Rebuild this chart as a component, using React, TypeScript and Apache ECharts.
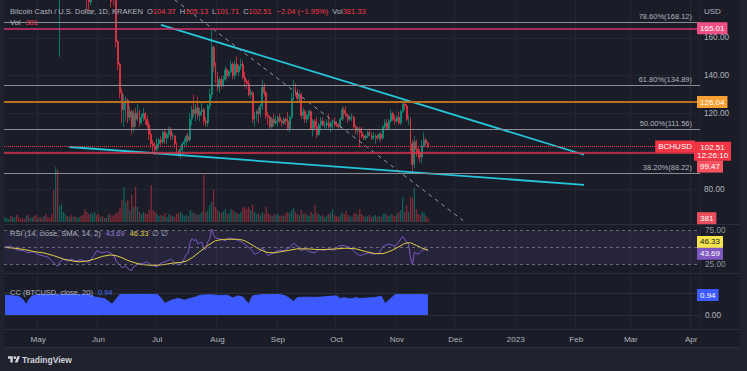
import React, { useEffect, useRef } from "react";
import * as echarts from "echarts";

const FONT = "'Liberation Sans', Arial, sans-serif";
const START_DATE = Date.UTC(2022, 3, 14);
const AXIS_DAYS = 357;
const MONTHS = ["Jan", "Feb", "Mar", "Apr", "May", "Jun", "Jul", "Aug", "Sep", "Oct", "Nov", "Dec"];

const firstOpen = 326;
const closes = [
  330, 333, 335, 325, 332, 340, 338, 330, 322, 320, 316, 318, 300, 303, 306, 292, 280,
  290, 288, 284, 302, 280, 272, 265, 250, 218, 220, 190, 195, 205, 205,
  215, 205, 210, 198, 205, 200, 202, 207, 198, 197, 192, 182, 179, 183, 186, 200, 198,
  186, 191, 187, 189, 188, 193, 185, 183, 180, 158, 146, 131, 122,
  126, 127, 118, 121, 113, 120, 117, 121, 115, 118, 120, 117, 114, 109, 104, 103, 101,
  104, 106, 105, 110, 107, 109, 111, 108, 108, 104, 100, 98, 101, 104, 105, 108, 106,
  117, 122, 120, 123, 119, 121, 122, 116, 115, 124, 130, 155, 145, 140,
  134, 138, 135, 138, 143, 140, 142, 146, 140, 146, 142, 145, 146, 139, 137, 136, 130, 131,
  117, 119, 121, 120, 124, 134, 131, 119, 118, 113, 117, 115, 116, 118, 116, 115, 117, 116, 112,
  118, 128, 133, 131, 128, 130, 119, 121, 117, 119, 121, 112, 116, 113, 109, 114, 116, 114, 114, 115, 113, 115, 116, 115,
  114, 113, 117, 122, 120, 119, 117, 118, 118, 113, 111, 112, 110, 108, 107, 108, 110, 109, 107, 108, 108, 107, 109, 107, 113, 115, 112, 116, 120, 117, 116,
  118, 115, 121, 125, 124, 117, 117, 104, 93, 105, 101, 99, 97, 103, 106, 104.37, 102.51,
];
const highs = [
  338, 336, 339, 337, 334, 343, 348, 352, 333, 326, 322, 320, 322, 308, 312, 308, 296,
  292, 294, 292, 305, 306, 282, 274, 266, 252, 232, 226, 200, 215, 210,
  217, 216, 214, 212, 207, 208, 205, 209, 212, 202, 200, 194, 186, 186, 188, 203, 204,
  202, 193, 192, 191, 191, 198, 194, 188, 185, 181, 159, 147, 133,
  130, 129, 128, 124, 122, 122, 123, 125, 122, 120, 123, 121, 119, 116, 112, 106, 105,
  107, 107, 108, 111, 112, 110, 113, 113, 110, 109, 105, 101, 102, 105, 107, 109, 110,
  120, 124, 130, 125, 129, 123, 126, 123, 118, 125, 133, 165, 156, 147,
  142, 139, 140, 140, 145, 144, 143, 148, 147, 148, 150, 146, 149, 148, 142, 138, 138, 133,
  132, 121, 122, 123, 125, 138, 136, 132, 121, 119, 118, 120, 119, 119, 120, 117, 118, 118, 121,
  119, 131, 138, 136, 133, 132, 131, 123, 122, 120, 122, 122, 117, 117, 118, 115, 118, 118, 116, 117, 120, 116, 117, 118,
  116, 115, 118, 124, 123, 124, 120, 119, 120, 119, 114, 113, 113, 113, 109, 109, 111, 112, 110, 110, 109, 109, 110, 110, 114, 117, 117, 117, 122, 121, 119,
  119, 121, 122, 127, 127, 125, 119, 118, 106, 108, 106, 102, 101, 106, 110, 107, 105.13,
];
const lows = [
  322, 326, 330, 322, 312, 330, 334, 325, 318, 316, 312, 300, 298, 296, 300, 288, 278,
  276, 283, 280, 282, 275, 265, 262, 245, 214, 205, 180, 150, 192, 196,
  200, 200, 203, 196, 195, 196, 198, 200, 196, 193, 188, 175, 174, 177, 180, 185, 194,
  183, 184, 184, 186, 185, 186, 176, 179, 177, 155, 143, 128, 115,
  113, 116, 115, 116, 109, 110, 113, 116, 113, 114, 116, 114, 112, 106, 102, 99, 98,
  100, 102, 103, 104, 104, 104, 107, 106, 106, 102, 99, 97, 96, 99, 102, 103, 105,
  105, 114, 118, 116, 117, 116, 119, 114, 113, 113, 122, 128, 142, 136,
  132, 131, 133, 134, 137, 138, 139, 141, 138, 138, 141, 140, 143, 138, 134, 133, 129, 128,
  115, 113, 116, 115, 118, 122, 129, 117, 114, 112, 112, 113, 114, 113, 115, 113, 114, 114, 111,
  110, 117, 127, 129, 126, 126, 117, 117, 115, 115, 117, 111, 108, 111, 107, 108, 111, 113, 112, 112, 112, 110, 112, 113,
  113, 112, 112, 116, 117, 118, 115, 116, 116, 112, 109, 109, 102, 107, 106, 106, 107, 108, 106, 106, 104, 106, 106, 105, 106, 112, 111, 111, 115, 116, 114,
  115, 114, 114, 120, 122, 116, 114, 100, 88, 91, 97, 96, 94, 94, 102, 103, 101.71,
];
const volumes = [
  500, 400, 300, 600, 500, 400, 700, 500, 300, 400, 300, 600, 700, 400, 500, 600, 700,
  400, 500, 400, 600, 800, 500, 400, 800, 3200, 5500, 5200, 1600, 1800, 1000,
  800, 600, 500, 700, 500, 600, 400, 500, 600, 700, 1300, 1000, 800, 900, 800, 1000, 700,
  800, 500, 600, 400, 400, 700, 800, 600, 700, 900, 1000, 1400, 2200,
  3500, 2000, 2200, 1200, 2700, 1500, 3500, 1500, 1000, 800, 1000, 900, 800, 1200, 3700, 1200, 1000,
  800, 600, 700, 600, 900, 500, 800, 700, 600, 500, 800, 900, 1000, 800, 600, 700, 600,
  1200, 1000, 900, 800, 700, 800, 1000, 4700, 1000, 1200, 1700, 2000, 3200, 1500,
  1200, 1000, 900, 1100, 1300, 800, 900, 1300, 1200, 1000, 900, 800, 1000, 1400, 1500, 1300, 1500, 1200,
  1700, 1000, 800, 900, 700, 1000, 800, 1500, 900, 700, 600, 800, 700, 800, 600, 700, 600, 800, 1000,
  900, 1200, 1400, 1000, 800, 700, 1200, 800, 900, 700, 600, 1000, 800, 1700, 900, 800, 600, 700, 500, 600, 800, 900, 1300, 700,
  600, 500, 700, 1000, 800, 1100, 700, 600, 500, 800, 900, 700, 1300, 800, 600, 500, 600, 700, 500, 600, 700, 500, 600, 500, 800, 900, 700, 600, 800, 700, 600,
  800, 1000, 1200, 2500, 1000, 1700, 1000, 2500, 2400, 3400, 1300, 800, 700, 1000, 900, 600, 381.33,
];
const rsiPoints = [
  [0, 51], [3, 52], [5, 48], [7, 46], [10, 45], [12, 42], [14, 44], [17, 40], [19, 38], [22, 36], [24, 30],
  [26, 25], [27, 22], [28, 28], [30, 33], [32, 30], [34, 33], [36, 30], [39, 32], [41, 30], [43, 28], [46, 40],
  [47, 45], [50, 42], [52, 44], [54, 42], [56, 38], [57, 30], [59, 24], [60, 20], [62, 23], [63, 19], [65, 16],
  [66, 22], [68, 25], [71, 27], [73, 29], [75, 24], [78, 22], [80, 27], [83, 30], [85, 33], [87, 28], [89, 24],
  [91, 28], [93, 40], [94, 42], [95, 58], [96, 63], [97, 60], [98, 62], [99, 55], [100, 57], [101, 58], [102, 48],
  [103, 47], [104, 58], [105, 63], [106, 77], [107, 68], [108, 64], [111, 62], [113, 60], [115, 64], [118, 62],
  [120, 60], [122, 57], [124, 52], [126, 48], [128, 40], [130, 42], [132, 50], [133, 46], [135, 38], [137, 41],
  [139, 44], [141, 46], [143, 45], [146, 50], [148, 56], [150, 52], [152, 45], [154, 48], [156, 44], [159, 42],
  [161, 47], [164, 46], [166, 48], [169, 46], [171, 52], [174, 53], [177, 50], [179, 44], [182, 38], [184, 40],
  [187, 42], [189, 40], [192, 42], [194, 52], [197, 55], [200, 52], [202, 58], [204, 66], [205, 62], [207, 55],
  [208, 35], [209, 25], [210, 43], [212, 40], [214, 46], [216, 47], [217, 43.69],
];
const rsiSmaPoints = [
  [0, 50], [5, 49], [10, 47], [15, 44], [20, 42], [25, 38], [30, 33], [35, 30], [38, 29], [42, 30], [46, 33],
  [50, 37], [54, 39], [57, 38], [60, 35], [63, 31], [66, 28], [70, 25], [74, 24], [78, 24], [82, 25], [86, 27],
  [90, 28], [93, 30], [96, 35], [100, 44], [104, 53], [108, 60], [112, 62], [116, 62], [120, 62], [123, 60],
  [126, 55], [130, 48], [134, 43], [138, 42], [142, 44], [146, 46], [150, 48], [155, 48], [160, 47], [165, 47],
  [170, 48], [175, 49], [180, 48], [185, 44], [190, 41], [194, 41], [198, 45], [202, 51], [205, 56], [208, 57],
  [211, 53], [214, 49], [217, 46.33],
];
const ccPoints = [
  [0, 0.93], [4, 0.9], [7, 0.88], [9, 0.75], [11, 0.5], [12, 0.7], [14, 0.9], [18, 0.97], [22, 0.98], [28, 0.99],
  [36, 0.99], [43, 0.98], [46, 0.85], [49, 0.8], [51, 0.78], [53, 0.65], [55, 0.52], [57, 0.75], [59, 0.97],
  [64, 1.0], [74, 1.0], [78, 0.98], [80, 0.8], [82, 0.55], [84, 0.65], [86, 0.72], [89, 0.78], [92, 0.7],
  [95, 0.78], [98, 0.85], [100, 0.93], [105, 0.95], [110, 0.92], [114, 0.93], [117, 0.8], [119, 0.9], [122, 0.85],
  [125, 0.52], [127, 0.9], [131, 0.95], [136, 0.96], [141, 0.96], [144, 0.9], [146, 0.78], [148, 0.65], [150, 0.82],
  [154, 0.84], [159, 0.83], [163, 0.85], [167, 0.88], [170, 0.9], [172, 0.78], [174, 0.82], [177, 0.76], [180, 0.82],
  [182, 0.78], [186, 0.8], [190, 0.83], [193, 0.88], [195, 0.55], [197, 0.7], [200, 0.95], [205, 0.98], [210, 0.98],
  [214, 0.96], [217, 0.94],
];
const fibLevels = [
  { pct: "78.60%", value: 168.12 },
  { pct: "61.80%", value: 134.89 },
  { pct: "50.00%", value: 111.56 },
  { pct: "38.20%", value: 88.22 },
  { pct: "23.60%", value: 59.34 },
];
const levelLines = [
  { value: 165.01, line: "#d6336c", box: "#ee4f84", width: 1.5 },
  { value: 126.04, line: "#b8701f", box: "#f7a033", width: 2 },
  { value: 99.47, line: "#e0334a", box: "#f7525f", width: 1.5 },
];
const trendUpper = [[80, 166.9], [297, 98.2]];
const trendLower = [[33, 102.3], [297, 82.3]];
const trendDashed = [[87, 180.2], [235, 63.4]];
const lastPrice = 102.51;
const lastVolume = 381;
const lastRsi = 43.69;
const lastRsiSma = 46.33;
const lastCc = 0.94;

const UP = "#089981";
const DOWN = "#f23645";
const TXT = "#b2b5be";
const GRIDC = "#242733";
const SEP = "#2b2f3a";
const BG = "#1a1d28";
const FRAME = "#20232e";

const LOGO = "M14 22H7V11H0V4h14v18zM28 22h-8l7.5-18h8L28 22zM24 8a4 4 0 1 1-8 0a4 4 0 1 1 8 0z";
echarts.graphic.registerShape("tvlogo", echarts.graphic.extendPath(LOGO, {}) as any);

const dates: string[] = [];
for (let i = 0; i < AXIS_DAYS; i++) {
  dates.push(new Date(START_DATE + i * 86400000).toISOString().slice(0, 10));
}
const isMonthStart = (_i: number, v: string) => v.slice(8) === "01";
const monthLabel = (v: string) => {
  const m = +v.slice(5, 7);
  return m === 1 ? v.slice(0, 4) : MONTHS[m - 1];
};

export default function App() {
  const ref = useRef<HTMLDivElement>(null);
  useEffect(() => {
    document.body.style.margin = "0";
    const chart = echarts.init(ref.current!, null, { renderer: "svg" });

    const candleData = closes.map((c, i) => {
      const o = i === 0 ? firstOpen : closes[i - 1];
      return [o, c, Math.min(lows[i], o, c), Math.max(highs[i], o, c)];
    });
    const volData = volumes.map((v, i) => ({
      value: v,
      itemStyle: { color: candleData[i][1] >= candleData[i][0] ? "rgba(8,153,129,0.55)" : "rgba(242,54,69,0.5)" },
    }));

    const xAxes = [0, 1, 2, 3].map((g) => ({
      type: "category",
      gridIndex: g,
      data: dates,
      boundaryGap: true,
      axisLine: { show: false },
      axisTick: { show: false },
      axisLabel:
        g === 3
          ? { show: true, interval: isMonthStart, formatter: monthLabel, color: TXT, fontSize: 8, fontFamily: FONT, margin: 7 }
          : { show: false },
      splitLine: g === 1 ? { show: false } : { show: true, interval: isMonthStart, lineStyle: { color: GRIDC, width: 1 } },
    }));

    const option: any = {
      animation: false,
      backgroundColor: BG,
      textStyle: { fontFamily: FONT },
      grid: [
        { left: 4, top: -1, width: 696, height: 228 },
        { left: 4, top: 160, width: 696, height: 62 },
        { left: 4, top: 225, width: 696, height: 47 },
        { left: 4, top: 275, width: 696, height: 53 },
      ],
      xAxis: xAxes,
      yAxis: [
        {
          type: "value", gridIndex: 0, position: "right", min: 60, max: 180, interval: 20,
          axisLine: { show: false }, axisTick: { show: false },
          axisLabel: {
            color: TXT, fontSize: 8.2, fontFamily: FONT, margin: 4,
            formatter: (v: number) => (v === 60 || v === 100 || v === 180 ? "" : v.toFixed(2)),
          },
          splitLine: { show: true, showMinLine: false, showMaxLine: false, lineStyle: { color: GRIDC } },
        },
        { type: "value", gridIndex: 1, min: 0, max: 6200, show: false },
        { type: "value", gridIndex: 2, min: 14, max: 83, show: false },
        { type: "value", gridIndex: 3, min: -0.56, max: 1.85, show: false },
      ],
      series: [
        {
          type: "bar", xAxisIndex: 1, yAxisIndex: 1, data: volData, barWidth: 1.3, z: 1,
        },
        {
          type: "candlestick", xAxisIndex: 0, yAxisIndex: 0, data: candleData, barWidth: 1.4,
          itemStyle: { color: UP, color0: DOWN, borderColor: UP, borderColor0: DOWN, borderWidth: 0.7 },
          markLine: {
            silent: true, symbol: ["none", "none"], animation: false,
            data: [
              ...fibLevels.map((f) => ({
                yAxis: f.value,
                lineStyle: { color: "#8a8d96", width: 1, type: "solid", opacity: f.value < 60 ? 0 : 1 },
                label: {
                  show: true, position: "insideEndTop", distance: [8, 2],
                  formatter: `${f.pct}(${f.value.toFixed(2)})`, color: TXT, fontSize: 7.5, fontFamily: FONT,
                },
              })),
              ...levelLines.map((l) => ({
                yAxis: l.value,
                lineStyle: { color: l.line, width: l.width, type: "solid" },
                label: { show: false },
              })),
              {
                yAxis: lastPrice,
                lineStyle: { color: DOWN, width: 1, type: "dotted" },
                label: { show: false },
              },
            ],
          },
        },
        {
          type: "line", xAxisIndex: 0, yAxisIndex: 0, data: trendUpper, symbol: "none",
          lineStyle: { color: "#26c6da", width: 1.8 },
        },
        {
          type: "line", xAxisIndex: 0, yAxisIndex: 0, data: trendLower, symbol: "none",
          lineStyle: { color: "#26c6da", width: 1.8 },
        },
        {
          type: "line", xAxisIndex: 0, yAxisIndex: 0, data: trendDashed, symbol: "none",
          lineStyle: { color: "#9598a1", width: 1, type: [4, 4] },
        },
        {
          type: "line", xAxisIndex: 2, yAxisIndex: 2, data: rsiPoints, symbol: "none",
          lineStyle: { color: "#7e57c2", width: 1 },
          markArea: {
            silent: true,
            itemStyle: { color: "rgba(126,87,194,0.12)" },
            data: [[{ yAxis: 75 }, { yAxis: 25 }]],
          },
          markLine: {
            silent: true, symbol: ["none", "none"],
            lineStyle: { color: "#787b86", width: 1, type: [3, 3], opacity: 0.8 },
            data: [
              { yAxis: 75, label: { show: true, position: "end", distance: 5, formatter: "75.00", color: TXT, fontSize: 8.2, fontFamily: FONT } },
              { yAxis: 50, label: { show: false } },
              { yAxis: 25, label: { show: true, position: "end", distance: 5, formatter: "25.00", color: TXT, fontSize: 8.2, fontFamily: FONT } },
            ],
          },
        },
        {
          type: "line", xAxisIndex: 2, yAxisIndex: 2, data: rsiSmaPoints, symbol: "none",
          lineStyle: { color: "#e3d043", width: 1 },
        },
        {
          type: "line", xAxisIndex: 3, yAxisIndex: 3, data: ccPoints, symbol: "none",
          lineStyle: { color: "#3d5afe", width: 1 },
          areaStyle: { color: "#3d5afe", opacity: 1 },
          markLine: {
            silent: true, symbol: ["none", "none"],
            lineStyle: { color: SEP, width: 1, type: "solid" },
            data: [
              { yAxis: 0, label: { show: true, position: "end", distance: 5, formatter: "0.00", color: TXT, fontSize: 8.2, fontFamily: FONT } },
              { yAxis: 1, label: { show: false } },
            ],
          },
        },
      ],
    };
    chart.setOption(option);

    const py = (ax: number, v: number) => chart.convertToPixel({ yAxisIndex: ax } as any, v) as unknown as number;
    const box = (text: string, x: number, yc: number, bg: string, fg = "#ffffff", align = "left") => ({
      type: "text", x, y: yc, z: 100,
      style: {
        text, fill: fg, backgroundColor: bg, padding: [2, 3, 1, 3], fontSize: 8, fontFamily: FONT,
        align, verticalAlign: "middle", lineHeight: 9,
      },
    });
    const pPrice = py(0, lastPrice);
    const rich = {
      g: { fill: TXT, fontSize: 7.5, fontFamily: FONT },
      gp: { fill: TXT, fontSize: 7.5, fontFamily: FONT, padding: [0, 0, 0, 4] },
      r: { fill: DOWN, fontSize: 7.5, fontFamily: FONT },
      rp: { fill: DOWN, fontSize: 7.5, fontFamily: FONT, padding: [0, 0, 0, 5] },
      pp: { fill: "#9a7ad6", fontSize: 7.5, fontFamily: FONT, padding: [0, 0, 0, 5] },
      yp: { fill: "#e3d043", fontSize: 7.5, fontFamily: FONT, padding: [0, 0, 0, 5] },
      bp: { fill: "#4a6cf7", fontSize: 7.5, fontFamily: FONT, padding: [0, 0, 0, 5] },
    };
    const txt = (text: string, x: number, y: number) => ({
      type: "text", x, y, z: 100, style: { text, rich, verticalAlign: "middle", align: "left" },
    });
    const sepLine = (x1: number, y1: number, x2: number, y2: number) => ({
      type: "line", z: 50, shape: { x1, y1, x2, y2 }, style: { stroke: SEP, lineWidth: 1 },
    });

    const graphics: any[] = [
      { type: "rect", z: 50, shape: { x: 0, y: 0, width: 4, height: 348 }, style: { fill: FRAME } },
      { type: "rect", z: 50, shape: { x: 740, y: 0, width: 7, height: 348 }, style: { fill: FRAME } },
      { type: "rect", z: 50, shape: { x: 0, y: 348, width: 747, height: 23 }, style: { fill: FRAME } },
      sepLine(4, 224.5, 740, 224.5),
      sepLine(4, 273.5, 740, 273.5),
      sepLine(4, 329.5, 740, 329.5),
      sepLine(4, 347.5, 740, 347.5),
      txt("{g|Bitcoin Cash / U.S. Dollar, 1D, KRAKEN}{gp|O}{r|104.37}{gp|H}{r|105.13}{gp|L}{r|101.71}{gp|C}{r|102.51}{rp|−2.04 (−1.95%)}{gp|Vol}{r|381.33}", 10, 11),
      txt("{g|Vol}{rp|381}", 10, 22),
      txt("{g|RSI (14, close, SMA, 14, 2)}{pp|43.69}{yp|46.33}{gp|∅ ∅}", 10, 233),
      txt("{g|CC (BTCUSD, close, 20)}{bp|0.94}", 10, 292),
      { type: "text", x: 704, y: 11, z: 100, style: { text: "USD", fill: TXT, fontSize: 8, fontFamily: FONT, verticalAlign: "middle" } },
      ...levelLines
        .filter((l) => l.value !== 99.47)
        .map((l) => box(l.value.toFixed(2), 697, py(0, l.value), l.box)),
      box("BCHUSD", 695, pPrice, DOWN, "#ffffff", "right"),
      {
        type: "text", x: 712.5, y: pPrice - 4.8, z: 100,
        style: {
          text: `${lastPrice.toFixed(2)}\n12:26:10`, fill: "#ffffff", backgroundColor: DOWN, padding: [1, 3, 1, 3],
          fontSize: 8, fontFamily: FONT, align: "center", verticalAlign: "top", lineHeight: 8.5,
        },
      },
      box("99.47", 697, pPrice + 20, "#f7525f"),
      box(String(lastVolume), 697, py(1, lastVolume), "#e84e5c"),
      box(lastRsiSma.toFixed(2), 697, py(2, lastRsiSma) - 8, "#f5e34c", "#131722"),
      box(lastRsi.toFixed(2), 697, py(2, lastRsi) + 2, "#7e57c2"),
      box(lastCc.toFixed(2), 697, py(3, lastCc), "#3d5afe"),
      { type: "tvlogo", x: 8, y: 355, scaleX: 0.34, scaleY: 0.34, z: 100, style: { fill: "#d1d4dc" } },
      {
        type: "text", x: 22, y: 360, z: 100,
        style: { text: "TradingView", fill: "#d1d4dc", fontSize: 8.5, fontWeight: "bold", fontFamily: FONT, verticalAlign: "middle" },
      },
    ];
    chart.setOption({ graphic: graphics });

    return () => chart.dispose();
  }, []);
  return (
    <div
      ref={ref}
      style={{ position: "fixed", left: 0, top: 0, width: 747, height: 371, background: FRAME }}
    />
  );
}
